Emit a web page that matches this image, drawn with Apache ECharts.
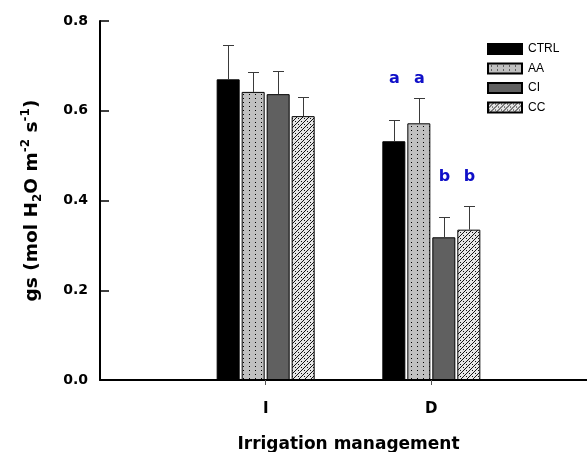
<!DOCTYPE html>
<html><head><meta charset="utf-8">
<script src="https://cdn.jsdelivr.net/npm/echarts@6/dist/echarts.min.js"></script>
<style>html,body{margin:0;padding:0;background:#fff}#c{width:587px;height:452px}</style>
</head><body><div id="c"></div>
<script>
// ---- data ----
const categories = ['I', 'D'];
const treatments = ['CTRL', 'AA', 'CI', 'CC'];
const ctrlMean = [0.670, 0.532];
const ctrlErr  = [0.077, 0.048];
const aaMean   = [0.642, 0.572];
const aaErr    = [0.044, 0.056];
const ciMean   = [0.637, 0.318];
const ciErr    = [0.051, 0.045];
const ccMean   = [0.588, 0.335];
const ccErr    = [0.043, 0.053];
const ctrlLetters = ['', 'a'];
const aaLetters   = ['', 'a'];
const ciLetters   = ['', 'b'];
const ccLetters   = ['', 'b'];
const letterLevelA = 0.672;
const letterLevelB = 0.452;
const yTicks = [0.0, 0.2, 0.4, 0.6, 0.8];
const xTitle = 'Irrigation management';

// ---- styling helpers ----
const FONT = 'Liberation Sans';
const WIDE = 'DejaVu Sans';
const BAR_W = 23, BAR_GAP = 2;

function pattern(kind) {
  const c = document.createElement('canvas');
  if (kind === 'dots') {
    c.width = 6; c.height = 4;
    const g = c.getContext('2d');
    g.fillStyle = '#c0c0c0'; g.fillRect(0, 0, 6, 4);
    g.fillStyle = '#000'; g.fillRect(3, 2, 1, 1);
  } else {
    c.width = 6; c.height = 6;
    const g = c.getContext('2d');
    g.fillStyle = '#e6e6e6'; g.fillRect(0, 0, 6, 6);
    g.fillStyle = '#111';
    for (let k = 0; k < 6; k++) g.fillRect(k, 5 - k, 1, 1);
    g.fillRect(1, 1, 1, 1);
    g.fillRect(4, 4, 1, 1);
  }
  return { image: c, repeat: 'repeat' };
}

const means = [ctrlMean, aaMean, ciMean, ccMean];
const errs = [ctrlErr, aaErr, ciErr, ccErr];
const letters = [ctrlLetters, aaLetters, ciLetters, ccLetters];
const fills = ['#000000', pattern('dots'), '#606060', pattern('zig')];
const axisCats = [''].concat(categories, ['']);

const series = [];
treatments.forEach((name, i) => {
  series.push({
    name: name, type: 'bar', barWidth: BAR_W, barGap: (BAR_GAP / BAR_W * 100) + '%',
    itemStyle: { color: fills[i], borderColor: '#000', borderWidth: 1 },
    data: ['-'].concat(means[i], ['-']),
    emphasis: { disabled: true }, silent: true, z: 2
  });
});
const total = treatments.length * BAR_W + (treatments.length - 1) * BAR_GAP;
treatments.forEach((name, i) => {
  const offset = -total / 2 + i * (BAR_W + BAR_GAP) + BAR_W / 2;
  series.push({
    name: name + ' SE', type: 'custom', silent: true, z: 3,
    data: categories.map((c, j) => [j + 1, means[i][j], errs[i][j]]),
    renderItem: function (params, api) {
      const cat = api.value(0), m = api.value(1), e = api.value(2);
      const b = api.coord([cat, m]);
      const t = api.coord([cat, m + e]);
      const x = Math.round(b[0] + offset) + 0.5;
      const ty = Math.round(t[1]) + 0.5;
      const st = { stroke: '#3a3a3a', lineWidth: 1 };
      const ch = [
        { type: 'line', shape: { x1: x, y1: b[1], x2: x, y2: ty }, style: st },
        { type: 'line', shape: { x1: x - 5.5, y1: ty, x2: x + 5.5, y2: ty }, style: st }
      ];
      const L = letters[i][params.dataIndex];
      if (L) {
        const p = api.coord([cat, L === 'a' ? letterLevelA : letterLevelB]);
        ch.push({ type: 'text', x: x, y: p[1], style: {
          text: L, fill: '#1010c8', fontSize: 16, fontWeight: 'bold', fontFamily: WIDE,
          align: 'center', verticalAlign: 'middle' } });
      }
      return { type: 'group', children: ch };
    }
  });
});

const chart = echarts.init(document.getElementById('c'), null, { renderer: 'canvas' });
chart.setOption({
  animation: false,
  backgroundColor: '#fff',
  textStyle: { fontFamily: FONT },
  grid: { left: 100, top: 21, width: 497, height: 359, containLabel: false, outerBoundsMode: 'none' },
  legend: {
    data: treatments, orient: 'vertical', left: 482, top: 38, icon: 'rect',
    itemWidth: 34, itemHeight: 10, itemGap: 7.5, selectedMode: false,
    textStyle: { fontSize: 12, color: '#000', fontFamily: FONT, padding: [0, 0, 0, 1] }
  },
  xAxis: {
    type: 'category', data: axisCats, boundaryGap: false,
    axisLine: { lineStyle: { color: '#000', width: 2 } },
    axisTick: { show: true, length: 5, inside: false, lineStyle: { color: '#555', width: 1 }, interval: (i, v) => v !== '' },
    axisLabel: { interval: (i, v) => v !== '', color: '#000', fontWeight: 'bold', fontSize: 15, margin: 22, fontFamily: WIDE },
    name: xTitle, nameLocation: 'middle', nameGap: 56,
    nameTextStyle: { color: '#000', fontWeight: 'bold', fontSize: 17, fontFamily: WIDE },
    splitLine: { show: false }
  },
  yAxis: {
    type: 'value', min: yTicks[0], max: yTicks[yTicks.length - 1], interval: yTicks[1] - yTicks[0],
    axisLine: { show: true, lineStyle: { color: '#000', width: 2 } },
    axisTick: { show: true, inside: true, length: 9, lineStyle: { color: '#000', width: 1.5 } },
    axisLabel: { color: '#000', fontWeight: 'bold', fontSize: 14, margin: 12, fontFamily: WIDE, formatter: v => v.toFixed(1) },
    splitLine: { show: false },
    name: '{n|gs (mol H}{sub|2}{n|O m}{sup|-2}{n| s}{sup|-1}{n|)}',
    nameLocation: 'middle', nameRotate: 90, nameGap: 56,
    nameTextStyle: {
      color: '#000', fontWeight: 'bold', fontSize: 18.5, fontFamily: WIDE,
      rich: {
        n: { fontSize: 18.5, fontWeight: 'bold', fontFamily: WIDE, color: '#000', lineHeight: 24 },
        sub: { fontSize: 12, fontWeight: 'bold', fontFamily: WIDE, color: '#000', verticalAlign: 'bottom' },
        sup: { fontSize: 12, fontWeight: 'bold', fontFamily: WIDE, color: '#000', verticalAlign: 'top' }
      }
    }
  },
  series: series
});
</script></body></html>
